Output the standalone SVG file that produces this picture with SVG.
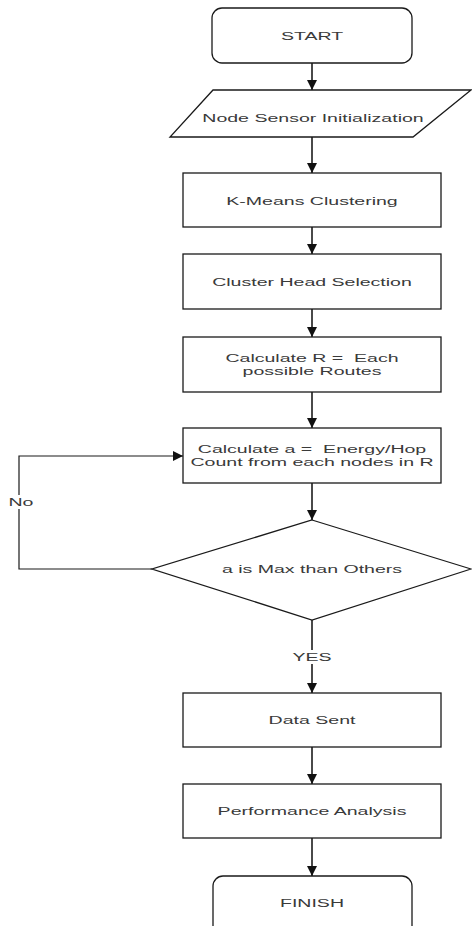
<svg xmlns="http://www.w3.org/2000/svg" width="472" height="926" viewBox="0 0 472 926">
  <style>
    .shape { fill: #ffffff; stroke: #1a1a1a; stroke-width: 1.3; }
    .lbl { font-family: "Liberation Sans", Arial, sans-serif; font-size: 11.5px; fill: #3a3a3a; text-anchor: middle; white-space: pre; }
    .flow { fill: none; stroke: #4a4a4a; stroke-width: 2; }
    .loop { fill: none; stroke: #1a1a1a; stroke-width: 1.2; }
    .tag { fill: #ffffff; }
  </style>
  <defs>
    <marker id="arrow" viewBox="0 0 10 10" refX="10" refY="5" markerWidth="10" markerHeight="10" markerUnits="userSpaceOnUse" orient="auto">
      <path d="M0,0 L10,5 L0,10 Z" fill="#111111"/>
    </marker>
  </defs>

  <rect width="472" height="926" fill="#ffffff"/>

  <!-- connectors -->
  <g id="connectors">
    <line class="flow" x1="312" y1="63" x2="312" y2="90" marker-end="url(#arrow)"/>
    <line class="flow" x1="312" y1="137" x2="312" y2="173" marker-end="url(#arrow)"/>
    <line class="flow" x1="312" y1="227" x2="312" y2="254" marker-end="url(#arrow)"/>
    <line class="flow" x1="312" y1="309" x2="312" y2="337" marker-end="url(#arrow)"/>
    <line class="flow" x1="312" y1="392" x2="312" y2="428" marker-end="url(#arrow)"/>
    <line class="flow" x1="312" y1="483" x2="312" y2="520" marker-end="url(#arrow)"/>
    <line class="flow" x1="312" y1="620" x2="312" y2="693" marker-end="url(#arrow)"/>
    <line class="flow" x1="312" y1="747" x2="312" y2="784" marker-end="url(#arrow)"/>
    <line class="flow" x1="312" y1="838" x2="312" y2="876" marker-end="url(#arrow)"/>
    <polyline class="loop" points="152,569 19,569 19,456 183,456" marker-end="url(#arrow)"/>
    <!-- branch labels -->
    <rect class="tag" x="297" y="650" width="30" height="14"/>
    <text class="lbl" transform="translate(312,661) scale(1.7,1)">YES</text>
    <rect class="tag" x="8" y="495" width="26" height="14"/>
    <text class="lbl" transform="translate(21,506) scale(1.7,1)">No</text>
  </g>

  <g id="start">
    <rect class="shape" x="212" y="8" width="200" height="55" rx="10" ry="10"/>
    <text class="lbl" transform="translate(312,40) scale(1.7,1)">START</text>
  </g>

  <g id="init">
    <polygon class="shape" points="213,90 471,90 413,137 170,137"/>
    <text class="lbl" transform="translate(313,122) scale(1.7,1)">Node Sensor Initialization</text>
  </g>

  <g id="kmeans">
    <rect class="shape" x="183" y="173" width="258" height="54"/>
    <text class="lbl" transform="translate(312,205) scale(1.7,1)">K-Means Clustering</text>
  </g>

  <g id="chselect">
    <rect class="shape" x="183" y="254" width="258" height="55"/>
    <text class="lbl" transform="translate(312,286) scale(1.7,1)">Cluster Head Selection</text>
  </g>

  <g id="routes">
    <rect class="shape" x="183" y="337" width="258" height="55"/>
    <text class="lbl" transform="translate(312,362) scale(1.7,1)">Calculate R =  Each</text>
    <text class="lbl" transform="translate(312,375) scale(1.7,1)">possible Routes</text>
  </g>

  <g id="energy">
    <rect class="shape" x="183" y="428" width="258" height="55"/>
    <text class="lbl" transform="translate(312,453) scale(1.7,1)">Calculate a =  Energy/Hop</text>
    <text class="lbl" transform="translate(312,466) scale(1.7,1)">Count from each nodes in R</text>
  </g>

  <g id="decision">
    <polygon class="shape" points="312,520 471,569 312,620 152,569"/>
    <text class="lbl" transform="translate(312,573) scale(1.7,1)">a is Max than Others</text>
  </g>

  <g id="send">
    <rect class="shape" x="183" y="693" width="258" height="54"/>
    <text class="lbl" transform="translate(312,724) scale(1.7,1)">Data Sent</text>
  </g>

  <g id="analysis">
    <rect class="shape" x="183" y="784" width="258" height="54"/>
    <text class="lbl" transform="translate(312,815) scale(1.7,1)">Performance Analysis</text>
  </g>

  <g id="finish">
    <rect class="shape" x="213" y="876" width="199" height="62" rx="10" ry="10"/>
    <text class="lbl" transform="translate(312,907) scale(1.7,1)">FINISH</text>
  </g>
</svg>
